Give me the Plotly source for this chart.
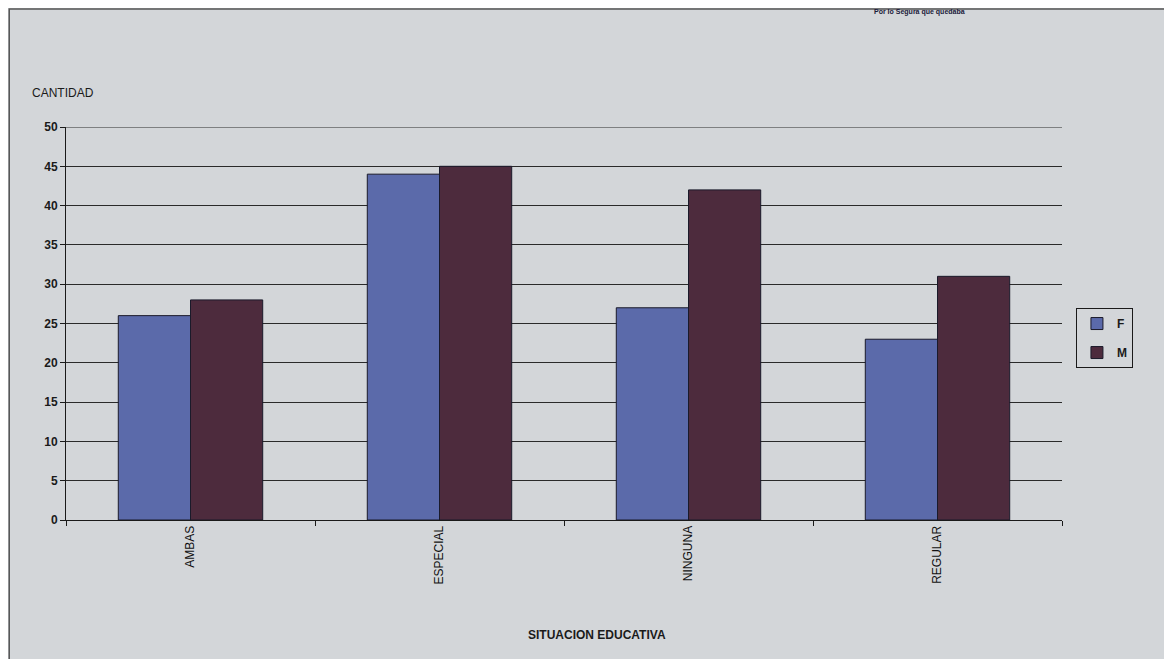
import plotly.graph_objects as go

categories = ["AMBAS", "ESPECIAL", "NINGUNA", "REGULAR"]
f_values = [26, 44, 27, 23]
m_values = [28, 45, 42, 31]
y_ticks = [0, 5, 10, 15, 20, 25, 30, 35, 40, 45, 50]

fig = go.Figure()
fig.add_trace(go.Bar(name="<b>F</b>", x=categories, y=f_values, legendgroup="F",
                     marker=dict(color="#5b6aaa", line=dict(color="#1a1a2a", width=1))))
fig.add_trace(go.Bar(name="<b>M</b>", x=categories, y=m_values, legendgroup="M",
                     marker=dict(color="#4d2b3d", line=dict(color="#1a1a2a", width=1))))

font_family = "Liberation Sans, Arial, sans-serif"
fig.update_layout(
    width=1172, height=659,
    margin=dict(l=58, r=118, t=119, b=147),
    paper_bgcolor="#d3d6d9", plot_bgcolor="#d3d6d9",
    barmode="group", bargap=0.42, bargroupgap=0,
    font=dict(family=font_family, size=12, color="#1a1a1a"),
    legend=dict(x=1.014, y=0.463, xanchor="left", yanchor="middle",
                bgcolor="rgba(0,0,0,0)", bordercolor="#1a1a1a", borderwidth=1,
                font=dict(size=12, family=font_family, color="#1a1a1a"),
                itemwidth=30, tracegroupgap=10),
    showlegend=True,
)
fig.update_xaxes(
    type="category", tickangle=-90, showline=True, linecolor="#1a1a1a", linewidth=1,
    ticks="outside", ticklen=5, tickcolor="#1a1a1a", tickson="boundaries",
    showgrid=False, tickfont=dict(size=12, family=font_family, color="#111111"),
)
fig.update_yaxes(
    range=[0, 50], tickvals=y_ticks, ticktext=[f"<b>{v}</b>" for v in y_ticks],
    showline=True, linecolor="#1a1a1a", linewidth=1,
    ticks="outside", ticklen=5, tickcolor="#1a1a1a",
    showgrid=True, gridcolor="#2a2a2a", gridwidth=1, zeroline=False,
    tickfont=dict(size=12, family=font_family, color="#1a1a1a"),
)
fig.add_shape(type="line", xref="paper", yref="y", x0=0, x1=1, y0=50, y1=50,
              line=dict(color="#2a2a2a", width=1))
fig.add_annotation(text="CANTIDAD", xref="paper", yref="paper", x=-0.036, y=1.086,
                   xanchor="left", yanchor="middle", showarrow=False,
                   font=dict(size=12, family=font_family, color="#1a1a1a"))
fig.add_annotation(text="<b>SITUACION EDUCATIVA</b>", xref="paper", yref="paper",
                   x=0.533, y=-0.293, xanchor="center", yanchor="middle", showarrow=False,
                   font=dict(size=12, family=font_family, color="#1a1a1a"))
fig.add_annotation(text="<b>Por lo Segura que quedaba</b>", xref="paper", yref="paper",
                   x=0.857, y=1.292, xanchor="center", yanchor="middle", showarrow=False,
                   font=dict(size=7, family=font_family, color="#1a1a3a"))
fig.add_shape(type="rect", xref="paper", yref="paper", x0=-0.057, x1=1.25, y0=-0.4, y1=1.3,
              line=dict(color="#555", width=1.5))
fig.write_html("out.html")
